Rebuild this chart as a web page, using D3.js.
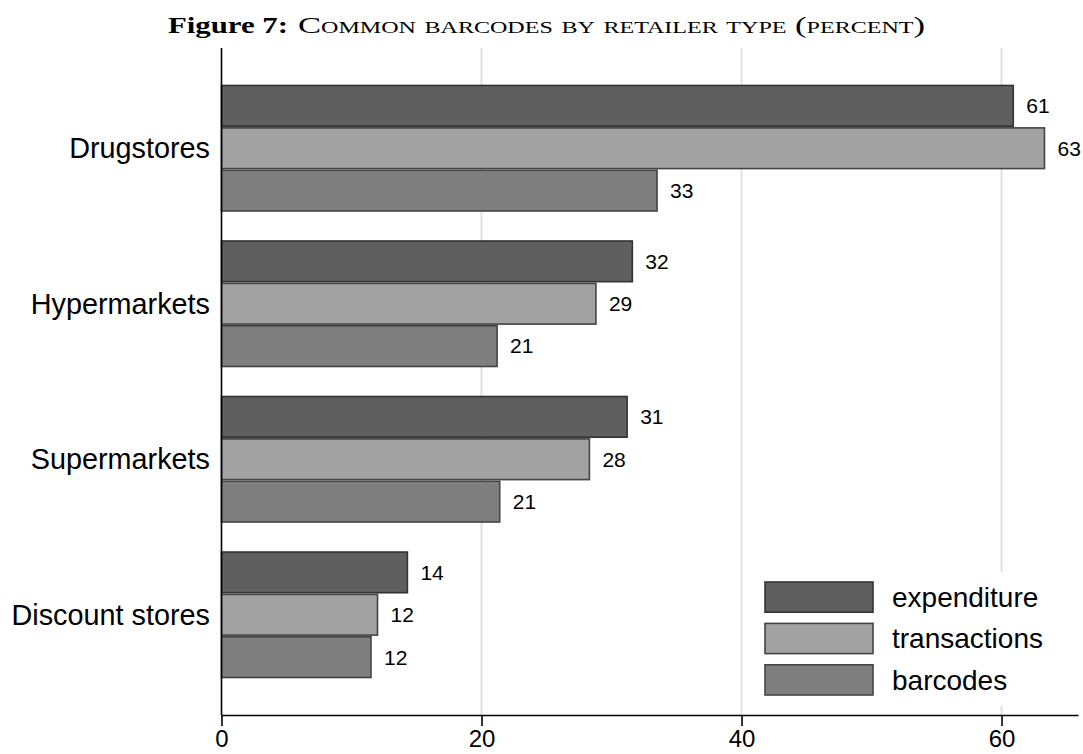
<!DOCTYPE html>
<html>
<head>
<meta charset="utf-8">
<script src="https://cdn.jsdelivr.net/npm/d3@7"></script>
<style>
html,body{margin:0;padding:0;background:#fff;}
svg{display:block;}
</style>
</head>
<body>
<svg id="chart" width="1083" height="754"></svg>
<script>
const categories = ["Drugstores", "Hypermarkets", "Supermarkets", "Discount stores"];
const seriesNames = ["expenditure", "transactions", "barcodes"];
const expenditure = [60.9, 31.6, 31.2, 14.3];
const transactions = [63.3, 28.8, 28.3, 12.0];
const barcodes = [33.5, 21.2, 21.4, 11.5];
const valueLabels = {
  expenditure: ["61", "32", "31", "14"],
  transactions: ["63", "29", "28", "12"],
  barcodes: ["33", "21", "21", "12"]
};
const xTicks = [0, 20, 40, 60];
const fills = {expenditure: "#5f5f5f", transactions: "#a2a2a2", barcodes: "#7f7f7f"};
const strokes = {expenditure: "#333333", transactions: "#444444", barcodes: "#444444"};

const seriesValues = {expenditure, transactions, barcodes};
const rows = [];
categories.forEach((c, i) => seriesNames.forEach(s => rows.push({cat: c, series: s, value: seriesValues[s][i], label: valueLabels[s][i]})));

const svg = d3.select("#chart");
const pLeft = 221.5, pRight = 1078, pTop = 48, pBottom = 715;

const x = d3.scaleLinear().domain([0, 65.88]).range([pLeft, pRight]);
const y = d3.scaleBand().domain(categories).range([pTop, pBottom]).paddingInner(0.193).paddingOuter(0.241);
const ySub = d3.scaleBand().domain(seriesNames).range([0, y.bandwidth()]).paddingInner(0.04);

// title
const serif = "'Liberation Serif', 'DejaVu Serif', serif";
svg.append("text")
  .attr("x", 168).attr("y", 33)
  .style("font-family", serif).style("font-size", "23px").attr("font-weight", "bold")
  .attr("fill", "#000")
  .attr("textLength", 120).attr("lengthAdjust", "spacingAndGlyphs")
  .text("Figure 7:");
svg.append("text")
  .attr("x", 298).attr("y", 33)
  .style("font-family", serif).style("font-size", "23px").style("font-variant", "small-caps")
  .attr("fill", "#000")
  .attr("textLength", 627).attr("lengthAdjust", "spacingAndGlyphs")
  .text("Common barcodes by retailer type (percent)");

// gridlines
svg.append("g").selectAll("line").data(xTicks.filter(d => d > 0)).join("line")
  .attr("x1", d => x(d)).attr("x2", d => x(d))
  .attr("y1", pTop).attr("y2", pBottom)
  .attr("stroke", "#e1e1e1").attr("stroke-width", 2);

// bars
const g = svg.append("g");
g.selectAll("rect").data(rows).join("rect")
  .attr("x", x(0))
  .attr("y", d => y(d.cat) + ySub(d.series))
  .attr("width", d => x(d.value) - x(0))
  .attr("height", ySub.bandwidth())
  .attr("fill", d => fills[d.series])
  .attr("stroke", d => strokes[d.series])
  .attr("stroke-width", 1.6);

// value labels
g.selectAll("text.val").data(rows).join("text")
  .attr("class", "val")
  .attr("x", d => x(d.value) + 13)
  .attr("y", d => y(d.cat) + ySub(d.series) + ySub.bandwidth() / 2)
  .attr("dy", "0.35em")
  .style("font-family", "'Liberation Sans', Arial, sans-serif")
  .style("font-size", "21px")
  .attr("fill", "#000")
  .text(d => d.label);

// category labels
svg.append("g").selectAll("text").data(categories).join("text")
  .attr("x", 210)
  .attr("y", d => y(d) + y.bandwidth() / 2)
  .attr("dy", "0.35em")
  .attr("text-anchor", "end")
  .style("font-family", "'Liberation Sans', Arial, sans-serif")
  .style("font-size", "28.8px")
  .attr("fill", "#000")
  .text(d => d);

// legend
const lg = svg.append("g");
lg.append("rect").attr("x", 752).attr("y", 572).attr("width", 322).attr("height", 134).attr("fill", "#fff");
const legY = d3.scaleBand().domain(seriesNames).range([582, 695]).paddingInner(0.27);
seriesNames.forEach(s => {
  lg.append("rect")
    .attr("x", 765).attr("y", legY(s))
    .attr("width", 108).attr("height", legY.bandwidth())
    .attr("fill", fills[s]).attr("stroke", strokes[s]).attr("stroke-width", 1.6);
  lg.append("text")
    .attr("x", 892).attr("y", legY(s) + legY.bandwidth() / 2)
    .attr("dy", "0.35em")
    .style("font-family", "'Liberation Sans', Arial, sans-serif")
    .style("font-size", "28px")
    .attr("fill", "#000")
    .text(s);
});

// axes
svg.append("line").attr("x1", pLeft).attr("x2", pLeft).attr("y1", pTop).attr("y2", pBottom)
  .attr("stroke", "#000").attr("stroke-width", 1.6);
const xAxis = svg.append("g").attr("transform", `translate(0,${pBottom})`)
  .call(d3.axisBottom(x).tickValues(xTicks).tickSize(11).tickSizeOuter(0).tickPadding(4));
xAxis.select(".domain").attr("stroke", "#000").attr("stroke-width", 1.6);
xAxis.selectAll(".tick line").attr("stroke", "#000").attr("stroke-width", 1.6);
xAxis.selectAll(".tick text")
  .style("font-family", "'Liberation Sans', Arial, sans-serif")
  .style("font-size", "24px")
  .attr("fill", "#000");
</script>
</body>
</html>
